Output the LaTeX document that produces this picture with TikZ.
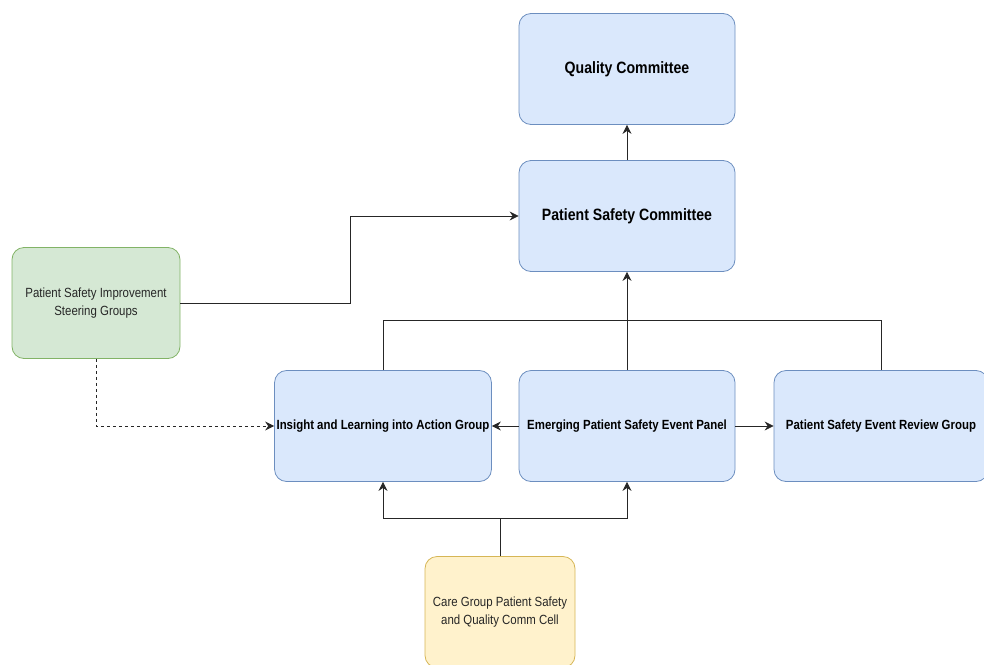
\documentclass[tikz,border=0pt]{standalone}
\usepackage{fontspec}
\setmainfont{Liberation Sans}[FakeStretch=0.86]
\usetikzlibrary{arrows.meta, positioning}
\definecolor{bluefill}{HTML}{DAE8FC}
\definecolor{bluedraw}{HTML}{6C8EBF}
\definecolor{greenfill}{HTML}{D5E8D4}
\definecolor{greendraw}{HTML}{82B366}
\definecolor{yellowfill}{HTML}{FFF2CC}
\definecolor{yellowdraw}{HTML}{D6B656}

\begin{document}
\begin{tikzpicture}[x=1pt, y=-1pt]
    % Setup the styles for the boxes
        \tikzset{box style/.style={rectangle, rounded corners=12pt,
                                   minimum width=216pt, minimum height=111pt,
                                   line width=0.8pt, inner sep=2pt,
                                   draw=bluedraw, fill=bluefill,
                                   font=\bfseries\fontsize{13.3}{16}\selectfont},
                 side style/.style={box style, minimum width=168pt,
                                    font=\fontsize{13.3}{18}\selectfont,
                                    text=black!85, align=center},
                 link/.style={line width=0.8pt, draw=black!85, >={Stealth[length=9pt, width=9pt, inset=3pt]}}}
        \useasboundingbox (0,0) rectangle (984,664);

        % Draw the boxes
        \node[box style, font=\bfseries\fontsize{16.4}{19}\selectfont] at (627, 69)  (quality)  {Quality Committee};
        \node[box style, font=\bfseries\fontsize{16.4}{19}\selectfont] at (627, 216) (safety)   {Patient Safety Committee};
        \node[box style] at (383, 426) (insight)  {Insight and Learning into Action Group};
        \node[box style] at (627, 426) (emerging) {Emerging Patient Safety Event Panel};
        \node[box style, minimum width=214pt] at (881, 426) (review) {Patient Safety Event Review Group};
        \node[side style, draw=greendraw, fill=greenfill] at (96, 303) (steering)
            {Patient Safety Improvement\\Steering Groups};
        \node[side style, minimum width=150pt, draw=yellowdraw, fill=yellowfill] at (500, 612) (care)
            {Care Group Patient Safety\\and Quality Comm Cell};

        % Connect the boxes
        \draw[link, ->] (safety) -- (quality);
        \draw[link, ->] (emerging) -- (safety);
        \draw[link] (insight.north) -- ++(0,-50) -| (review.north);
        \draw[link, ->] (steering.east) -- ++(170,0) |- (safety.west);
        \draw[link, ->, dashed] (steering.south) |- (insight.west);
        \draw[link, ->] (emerging.west) -- (insight.east);
        \draw[link, ->] (emerging.east) -- (review.west);
        \draw[link] (care.north) -- ++(0,-38) coordinate (split);
        \draw[link, ->] (split) -| (insight.south);
        \draw[link, ->] (split) -| (emerging.south);
\end{tikzpicture}
\end{document}
